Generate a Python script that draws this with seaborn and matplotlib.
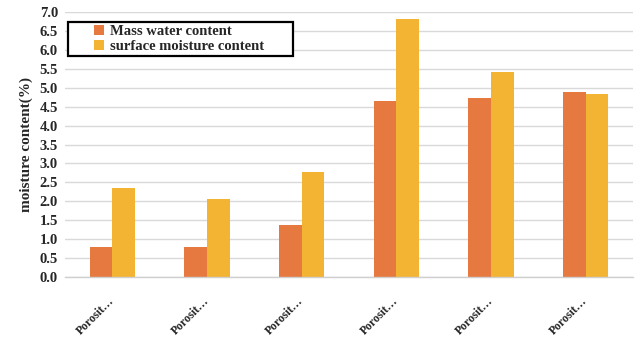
import matplotlib
matplotlib.use("Agg")
import matplotlib.pyplot as plt
from matplotlib.legend_handler import HandlerPatch
from matplotlib.patches import Rectangle
import pandas as pd
import seaborn as sns

# --- Data ---
CATEGORIES = ["Porosit…"] * 6
GROUP_IDS = [1, 2, 3, 4, 5, 6]
MASS_WATER = [0.80, 0.80, 1.38, 4.65, 4.73, 4.89]
SURFACE_MOISTURE = [2.36, 2.05, 2.78, 6.81, 5.41, 4.83]
SERIES = ["Mass water content", "surface moisture content"]
Y_TICKS = [0.0, 0.5, 1.0, 1.5, 2.0, 2.5, 3.0, 3.5, 4.0, 4.5, 5.0, 5.5, 6.0, 6.5, 7.0]

PALETTE = {SERIES[0]: "#E5793F", SERIES[1]: "#F4B433"}


def square_handle(legend, orig_handle, xdescent, ydescent, width, height, fontsize):
    """Small square sitting at the right end of the handle box."""
    side = height * 1.0
    return Rectangle((-xdescent + width - side, -ydescent), side, side)


def main():
    df = pd.DataFrame({
        "group": GROUP_IDS * 2,
        "value": MASS_WATER + SURFACE_MOISTURE,
        "series": [SERIES[0]] * len(GROUP_IDS) + [SERIES[1]] * len(GROUP_IDS),
    })

    sns.set_style("white")
    plt.rcParams["font.family"] = ["Liberation Serif", "DejaVu Serif"]
    plt.rcParams["font.weight"] = "bold"

    fig = plt.figure(figsize=(6.43, 3.40), dpi=100)
    ax = fig.add_axes([65 / 643, 1 - 277 / 340, 568 / 643, 265 / 340])

    sns.barplot(
        data=df, x="group", y="value", hue="series", hue_order=SERIES,
        palette=PALETTE, width=0.48, saturation=1, linewidth=0, ax=ax, legend=True,
    )

    ax.set_ylim(0, 7.0)
    ax.set_yticks(Y_TICKS)
    ax.set_yticklabels([f"{t:.1f}" for t in Y_TICKS], fontsize=10.5, fontweight="bold")
    ax.set_xticks(range(len(CATEGORIES)))
    ax.set_xticklabels(CATEGORIES, fontsize=8.5, fontweight="bold", rotation=45,
                       ha="right", va="center", rotation_mode="anchor")
    ax.tick_params(axis="x", length=0, pad=16)
    ax.tick_params(axis="y", length=0, pad=5)
    ax.set_xlabel("")
    ax.set_ylabel("moisture content(%)", fontsize=11, fontweight="bold", labelpad=5)

    ax.yaxis.grid(True, color="#d9d9d9", linewidth=1.0)
    ax.set_axisbelow(True)
    for side in ["top", "right", "left"]:
        ax.spines[side].set_visible(False)
    ax.spines["bottom"].set_color("#cfcfcf")
    ax.spines["bottom"].set_linewidth(1.0)

    handles, labels = ax.get_legend_handles_labels()
    ax.get_legend().remove()
    # trailing spaces widen the box to the right, as in the reference
    labels = [lab + "       " for lab in labels]
    leg = fig.legend(
        handles, labels, loc="upper left",
        bbox_to_anchor=(68 / 643, 1 - 22 / 340), bbox_transform=fig.transFigure,
        borderaxespad=0,
        handler_map={Rectangle: HandlerPatch(patch_func=square_handle)},
        handlelength=2.3, handleheight=0.7, handletextpad=0.4,
        labelspacing=0.1, borderpad=0.2, fancybox=False, framealpha=1,
        prop={"family": "Liberation Serif", "weight": "bold", "size": 10.5},
    )
    leg.get_frame().set_edgecolor("black")
    leg.get_frame().set_linewidth(1.6)

    fig.savefig("out.png", dpi=100)
    plt.close(fig)


if __name__ == "__main__":
    main()
